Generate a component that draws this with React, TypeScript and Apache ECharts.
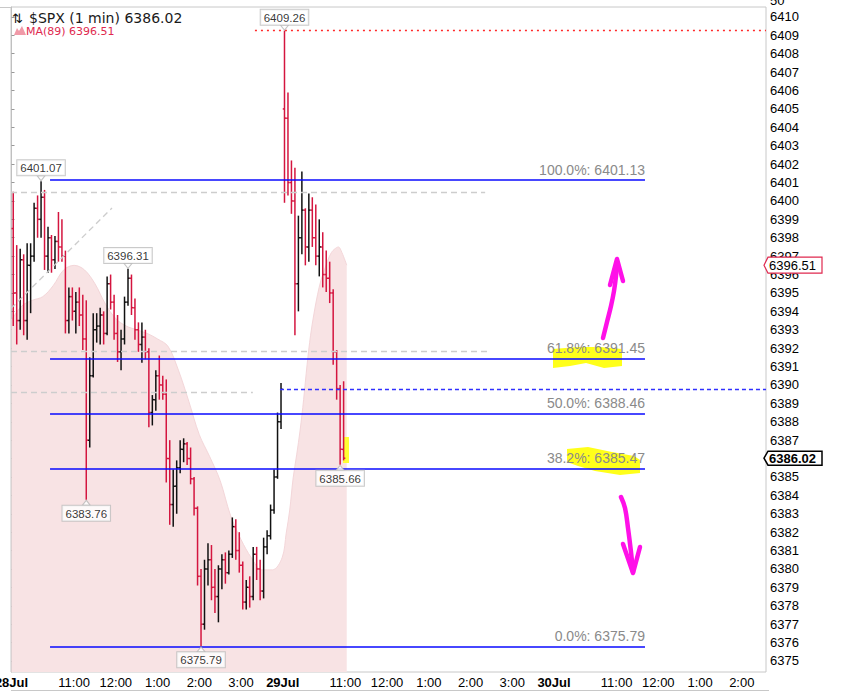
import React, { useEffect, useRef } from "react";
import * as echarts from "echarts";

// ---------- data ----------
// 5-minute OHLC bars. Session minutes counted from 28 Jul 09:30 (390 min per session).
const SESSION_MIN = 390;
const BAR_MIN = 5;

const jul28Open = [
  6398.5, 6395.0, 6393.5, 6396.8, 6393.5, 6396.5, 6397.0, 6399.6, 6399.0, 6400.2,
  6397.0, 6398.0, 6396.8, 6397.8, 6397.5, 6397.0, 6393.5, 6394.8, 6394.0, 6394.5,
  6393.8, 6392.5, 6387.0, 6390.5, 6393.0, 6393.2, 6393.8, 6392.8, 6395.5, 6394.5,
  6392.8, 6391.8, 6392.5, 6394.5, 6395.8, 6394.2, 6393.0, 6392.2, 6392.6, 6391.8,
  6388.5, 6389.2, 6390.5, 6390.0, 6389.5, 6386.0, 6383.5, 6384.5, 6385.5, 6386.5,
  6386.8, 6386.0, 6384.9, 6383.3, 6379.6, 6377.0, 6380.0, 6380.5, 6379.0, 6378.5,
  6380.0, 6380.5, 6379.8, 6380.8, 6382.3, 6381.0, 6380.2, 6378.2, 6379.0, 6378.5,
  6380.8, 6380.0, 6378.8, 6381.2, 6381.8, 6383.2, 6385.0, 6388.0,
];
const jul28High = [
  6400.5, 6397.6, 6397.4, 6397.1, 6397.7, 6397.7, 6399.9, 6400.3, 6401.07, 6400.6,
  6398.6, 6398.15, 6398.1, 6399.4, 6399.0, 6397.3, 6395.3, 6395.3, 6395.05, 6395.3,
  6394.9, 6394.6, 6391.5, 6393.9, 6393.9, 6394.2, 6394.0, 6395.9, 6396.0, 6394.9,
  6393.8, 6393.0, 6394.8, 6396.31, 6396.0, 6394.7, 6393.4, 6393.4, 6393.0, 6392.0,
  6389.45, 6390.8, 6391.6, 6390.5, 6390.3, 6387.0, 6385.4, 6385.9, 6387.0, 6387.1,
  6386.9, 6386.6, 6385.0, 6383.4, 6380.0, 6380.5, 6381.4, 6381.3, 6380.0, 6380.2,
  6380.8, 6380.9, 6381.0, 6382.8, 6382.7, 6382.0, 6380.4, 6379.4, 6379.6, 6381.2,
  6381.2, 6380.5, 6381.7, 6382.1, 6383.5, 6385.4, 6388.5, 6390.1,
];
const jul28Low = [
  6393.2, 6392.2, 6393.0, 6392.7, 6392.45, 6393.9, 6396.7, 6398.0, 6398.0, 6396.25,
  6396.1, 6396.1, 6396.3, 6396.7, 6396.7, 6392.8, 6392.8, 6393.5, 6392.8, 6393.2,
  6391.9, 6383.76, 6386.6, 6390.4, 6392.3, 6392.2, 6392.2, 6392.7, 6394.1, 6392.45,
  6391.25, 6390.8, 6392.2, 6394.3, 6393.8, 6392.45, 6391.8, 6391.2, 6391.4, 6387.7,
  6387.8, 6388.6, 6389.2, 6389.2, 6384.7, 6382.4, 6382.3, 6383.0, 6385.2, 6385.8,
  6385.65, 6384.6, 6382.9, 6379.1, 6375.79, 6376.7, 6379.1, 6378.3, 6377.6, 6377.1,
  6378.9, 6379.2, 6379.7, 6380.6, 6380.5, 6379.8, 6377.8, 6377.8, 6377.9, 6378.3,
  6379.4, 6378.3, 6378.4, 6380.8, 6381.6, 6383.0, 6384.9, 6387.6,
];
const jul28Close = [
  6395.0, 6393.5, 6396.8, 6393.5, 6396.5, 6397.0, 6399.6, 6399.0, 6400.2, 6397.0,
  6398.0, 6396.8, 6397.8, 6397.5, 6397.0, 6393.5, 6394.8, 6394.0, 6394.5, 6393.8,
  6392.5, 6387.0, 6390.5, 6393.0, 6393.2, 6393.8, 6392.8, 6395.5, 6394.5, 6392.8,
  6391.8, 6392.5, 6394.5, 6395.8, 6394.2, 6393.0, 6392.2, 6392.6, 6391.8, 6388.5,
  6389.2, 6390.5, 6390.0, 6389.5, 6386.0, 6383.5, 6384.5, 6385.5, 6386.5, 6386.8,
  6386.0, 6384.9, 6383.3, 6379.6, 6377.0, 6380.0, 6380.5, 6379.0, 6378.5, 6380.0,
  6380.5, 6379.8, 6380.8, 6382.3, 6381.0, 6380.2, 6378.2, 6379.0, 6378.5, 6380.8,
  6380.0, 6378.8, 6381.2, 6381.8, 6383.2, 6385.0, 6388.0, 6389.77,
];

const jul29Open = [
  6405.0, 6404.5, 6401.0, 6400.0, 6395.5, 6398.0, 6399.5, 6397.5, 6399.5, 6398.0,
  6397.0, 6397.5, 6396.0, 6395.8, 6395.0, 6391.8, 6389.8, 6386.5,
];
const jul29High = [
  6409.26, 6405.9, 6402.2, 6401.8, 6399.2, 6401.6, 6399.6, 6400.4, 6400.2, 6399.8,
  6399.0, 6398.3, 6397.3, 6396.7, 6395.2, 6391.9, 6390.0, 6390.2,
];
const jul29Low = [
  6399.9, 6400.3, 6399.3, 6392.7, 6394.0, 6397.1, 6396.5, 6396.7, 6397.5, 6396.5,
  6395.9, 6395.3, 6395.05, 6394.45, 6391.1, 6389.2, 6385.66, 6385.9,
];
const jul29Close = [
  6404.5, 6401.0, 6400.0, 6395.5, 6398.0, 6399.5, 6397.5, 6399.5, 6398.0, 6397.0,
  6397.5, 6396.0, 6395.8, 6395.0, 6391.8, 6389.8, 6386.5, 6386.02,
];

// MA(89), read along the edge of the shaded area
const maMinutes = [
  0, 15, 30, 45, 60, 75, 90, 105, 120, 135, 150, 165, 180, 195, 210, 225, 240, 255,
  270, 285, 300, 315, 330, 345, 360, 375, 389,
  395, 400, 405, 410, 415, 420, 425, 430, 435, 440, 445, 450, 455, 460, 465, 470, 475, 482,
];
const maValues = [
  6393.53, 6394.3, 6394.6, 6394.8, 6395.4, 6396.25, 6396.5, 6396.25, 6395.5, 6394.4,
  6393.6, 6393.2, 6393.0, 6392.8, 6392.5, 6392.1, 6390.8, 6389.1, 6387.3, 6386.1,
  6384.8, 6382.9, 6381.6, 6380.6, 6379.95, 6379.95, 6380.6,
  6381.95, 6383.2, 6384.95, 6386.2, 6387.55, 6389.2, 6391.1, 6392.7, 6393.9, 6394.9,
  6395.7, 6396.25, 6396.8, 6397.2, 6397.4, 6397.5, 6397.2, 6396.51,
];

// swing high / low labels
const swingMinutes = [42.5, 167.5, 107.5, 272.5, 392.5, 472.5];
const swingValues = [6401.07, 6396.31, 6383.76, 6375.79, 6409.26, 6385.66];
const swingSides = ["high", "high", "low", "low", "high", "low"];

// Fibonacci retracement
const fibPercents = ["100.0%", "61.8%", "50.0%", "38.2%", "0.0%"];
const fibLevels = [6401.13, 6391.45, 6388.46, 6385.47, 6375.79];
const fibStartMin = 55.4;
const fibEndMin = 910.8;

// other drawn levels
const highLevel = 6409.26;
const highLevelStartMin = 350;
const prevClose = 6389.77;
const prevCloseStartMin = 386;
const greyLevels = [6400.49, 6391.85, 6389.6];
const greyLevelEndMin = [681, 688, 347];
const diagonalMin = [-0.72, 144.5];
const diagonalVal = [6394.16, 6399.62];

const lastPrice = 6386.02;
const lastMA = 6396.51;

// axes
const xTickMinutes = [0, 90, 150, 210, 270, 330, 390, 480, 540, 600, 660, 720, 780, 870, 930, 990, 1050];
const xTickLabels = ["28Jul", "11:00", "12:00", "1:00", "2:00", "3:00", "29Jul", "11:00", "12:00", "1:00", "2:00", "3:00", "30Jul", "11:00", "12:00", "1:00", "2:00"];
const xTickIsDay = [true, false, false, false, false, false, true, false, false, false, false, false, true, false, false, false, false];
const yTickValues = [
  6375, 6376, 6377, 6378, 6379, 6380, 6381, 6382, 6383, 6384, 6385, 6386, 6387, 6388,
  6389, 6390, 6391, 6392, 6393, 6394, 6395, 6396, 6397, 6398, 6399, 6400, 6401, 6402,
  6403, 6404, 6405, 6406, 6407, 6408, 6409, 6410,
];

const X_MIN = -0.72;
const X_MAX = 1084.8;
const Y_MIN = 6374.4;
const Y_MAX = 6410.54;

const UP = "#111111";
const DOWN = "#d4153f";

function buildBars() {
  const rows: number[][] = [];
  const days = [
    [jul28Open, jul28High, jul28Low, jul28Close],
    [jul29Open, jul29High, jul29Low, jul29Close],
  ];
  days.forEach((d, day) => {
    d[0].forEach((o, i) => {
      const t = day * SESSION_MIN + i * BAR_MIN + BAR_MIN / 2;
      rows.push([t, o, d[1][i], d[2][i], d[3][i]]);
    });
  });
  return rows;
}

export default function App() {
  const ref = useRef<HTMLDivElement>(null);

  useEffect(() => {
    const chart = echarts.init(ref.current as HTMLDivElement, null, { renderer: "svg" });
    const bars = buildBars();
    const labelMap: Record<string, string> = {};
    xTickMinutes.forEach((m, i) => {
      labelMap[String(m)] = xTickIsDay[i] ? `{d|${xTickLabels[i]}}` : xTickLabels[i];
    });

    const greyStyle = { color: "#cdcdcd", type: [6, 4], width: 1.3 };
    const noLabel = { show: false };

    const option: any = {
      animation: false,
      backgroundColor: "#ffffff",
      grid: {
        left: 11,
        right: 99,
        top: 7,
        bottom: 20,
        show: true,
        borderColor: "#c8c8c8",
        borderWidth: 1,
        containLabel: false,
        outerBoundsMode: "none",
      },
      xAxis: {
        type: "value",
        min: X_MIN,
        max: X_MAX,
        axisLine: { show: false },
        axisTick: { show: false },
        splitLine: { show: false },
        axisLabel: {
          customValues: xTickMinutes,
          formatter: (v: number) => labelMap[String(v)] ?? "",
          fontSize: 13,
          fontFamily: "Liberation Sans",
          color: "#000",
          margin: 4,
          rich: { d: { fontWeight: "bold", fontSize: 13, fontFamily: "Liberation Sans", color: "#000" } },
        },
      },
      yAxis: {
        type: "value",
        position: "right",
        min: Y_MIN,
        max: Y_MAX,
        axisLine: { show: true, lineStyle: { color: "#c0c0c0" } },
        axisTick: { show: true, customValues: yTickValues, length: 3, lineStyle: { color: "#999" } },
        splitLine: { show: false },
        axisLabel: {
          customValues: yTickValues,
          formatter: (v: number) => String(v),
          fontSize: 13,
          fontFamily: "Liberation Sans",
          color: "#000",
          margin: 4,
        },
      },
      series: [
        {
          name: "MA(89)",
          type: "line",
          z: 1,
          data: maMinutes.map((m, i) => [m, maValues[i]]),
          symbol: "none",
          smooth: 0.35,
          lineStyle: { color: "#f3d6d9", width: 1 },
          areaStyle: { color: "#f8e3e4", opacity: 1, origin: "start" },
          silent: true,
        },
        {
          name: "$SPX",
          type: "custom",
          z: 3,
          data: bars,
          encode: { x: 0, y: [1, 2, 3, 4] },
          renderItem: (_params: any, api: any) => {
            const t = api.value(0);
            const o = api.value(1);
            const h = api.value(2);
            const l = api.value(3);
            const c = api.value(4);
            const pH = api.coord([t, h]);
            const pL = api.coord([t, l]);
            const pO = api.coord([t, o]);
            const pC = api.coord([t, c]);
            const half = api.size([BAR_MIN, 0])[0] * 0.5;
            const style = { stroke: c >= o ? UP : DOWN, lineWidth: 1.5 };
            return {
              type: "group",
              children: [
                { type: "line", shape: { x1: pH[0], y1: pH[1], x2: pL[0], y2: pL[1] }, style },
                { type: "line", shape: { x1: pO[0] - half, y1: pO[1], x2: pO[0], y2: pO[1] }, style },
                { type: "line", shape: { x1: pC[0], y1: pC[1], x2: pC[0] + half, y2: pC[1] }, style },
              ],
            };
          },
        },
        {
          name: "levels",
          type: "line",
          data: [],
          z: 4,
          markLine: {
            silent: true,
            symbol: ["none", "none"],
            animation: false,
            data: [
              ...greyLevels.map((v, i) => [
                { coord: [X_MIN, v], lineStyle: greyStyle, label: noLabel },
                { coord: [greyLevelEndMin[i], v] },
              ]),
              [
                { coord: [diagonalMin[0], diagonalVal[0]], lineStyle: greyStyle, label: noLabel },
                { coord: [diagonalMin[1], diagonalVal[1]] },
              ],
              [
                { coord: [highLevelStartMin, highLevel], lineStyle: { color: "#ff2a2a", type: [2, 4], width: 1.3 }, label: noLabel },
                { coord: [X_MAX, highLevel] },
              ],
              [
                { coord: [prevCloseStartMin, prevClose], lineStyle: { color: "#3030ff", type: [4, 3], width: 1.3 }, label: noLabel },
                { coord: [X_MAX, prevClose] },
              ],
              ...fibLevels.map((v, i) => [
                {
                  coord: [fibStartMin, v],
                  lineStyle: { color: "#0a0aff", type: "solid", width: 1.5 },
                  label: {
                    show: true,
                    position: "insideEndTop",
                    formatter: `${fibPercents[i]}: ${v.toFixed(2)}`,
                    color: "#8a8a8a",
                    fontSize: 14,
                    fontFamily: "Liberation Sans",
                    distance: [0, 3],
                  },
                },
                { coord: [fibEndMin, v] },
              ]),
            ],
          },
        },
        {
          name: "swings",
          type: "scatter",
          z: 6,
          silent: true,
          data: swingMinutes.map((m, i) => {
            const high = swingSides[i] === "high";
            return {
              value: [m, swingValues[i]],
              symbol: high ? "path://M0,0L10,0L5,7Z" : "path://M5,0L10,7L0,7Z",
              symbolSize: [8, 5],
              symbolOffset: [0, high ? -3 : 3],
              label: { position: high ? "top" : "bottom" },
            };
          }),
          itemStyle: { color: "#ffffff", borderColor: "#b5b5b5", borderWidth: 1 },
          label: {
            show: true,
            formatter: (p: any) => p.value[1].toFixed(2),
            fontSize: 11.5,
            fontFamily: "Liberation Sans",
            color: "#000",
            backgroundColor: "#ffffff",
            borderColor: "#bdbdbd",
            borderWidth: 1,
            padding: [2, 3, 1, 3],
            distance: 0,
          },
        },
      ],
    };

    chart.setOption(option);

    const pMA = chart.convertToPixel({ xAxisIndex: 0, yAxisIndex: 0 }, [X_MAX, lastMA]) as number[];
    const pLast = chart.convertToPixel({ xAxisIndex: 0, yAxisIndex: 0 }, [X_MAX, lastPrice]) as number[];
    const ax = pMA[0];

    const tag = (y: number, h: number, stroke: string, lw: number, text: string, bold: boolean) => [
      {
        type: "polygon",
        z: 20,
        shape: { points: [[ax - 2, y], [ax + 2, y - h], [ax + 56, y - h], [ax + 56, y + h], [ax + 2, y + h]] },
        style: { fill: "#ffffff", stroke, lineWidth: lw },
      },
      {
        type: "text",
        z: 21,
        x: ax + 3,
        y: y,
        style: {
          text,
          fill: "#000",
          fontSize: 13,
          fontFamily: "Liberation Sans",
          fontWeight: bold ? "bold" : "normal",
          verticalAlign: "middle",
        },
      },
    ];

    const magenta = { stroke: "#ff10e8", lineWidth: 4.5, lineCap: "round", lineJoin: "round", fill: null };

    chart.setOption({
      graphic: [
        // yellow highlighter marks
        {
          type: "polygon",
          z: 1.5,
          shape: { points: [[553, 349], [578, 347], [600, 347], [622, 349], [622, 366], [604, 368], [586, 363], [570, 366], [553, 368]] },
          style: { fill: "#ffff1a" },
        },
        {
          type: "polygon",
          z: 1.5,
          shape: { points: [[567, 449], [588, 447], [612, 452], [634, 456], [640, 460], [640, 473], [620, 475], [595, 471], [578, 466], [567, 462]] },
          style: { fill: "#ffff1a" },
        },
        {
          type: "rect",
          z: 1.5,
          shape: { x: 343, y: 437, width: 6, height: 26 },
          style: { fill: "#ffff33" },
        },
        // hand-drawn magenta arrows
        {
          type: "polyline",
          z: 20,
          shape: { points: [[603, 338], [607, 322], [611, 306], [614, 291], [616, 276], [617, 263]], smooth: 0.4 },
          style: magenta,
        },
        { type: "polyline", z: 20, shape: { points: [[610, 285], [617, 259], [623, 281]] }, style: magenta },
        {
          type: "polyline",
          z: 20,
          shape: { points: [[621, 497], [625, 508], [628, 528], [631, 552], [633, 572]], smooth: 0.4 },
          style: magenta,
        },
        { type: "polyline", z: 20, shape: { points: [[623, 544], [633, 573], [640, 547]] }, style: magenta },
        // value tags on the price axis
        ...tag(pMA[1], 8, "#e0284f", 1.2, lastMA.toFixed(2), false),
        ...tag(pLast[1], 7, "#000000", 1.5, lastPrice.toFixed(2), true),
        // header
        { type: "text", z: 20, x: 12, y: 18, style: { text: "⇅", fill: "#111", fontSize: 13, fontFamily: "DejaVu Sans", verticalAlign: "middle" } },
        {
          type: "text",
          z: 20,
          x: 29,
          y: 18,
          style: { text: `$SPX (1 min) ${lastPrice.toFixed(2)}`, fill: "#1a1a1a", fontSize: 14, fontFamily: "DejaVu Sans", verticalAlign: "middle" },
        },
        {
          type: "polygon",
          z: 20,
          shape: { points: [[14, 35], [17, 28], [19, 31], [22, 26], [26, 35]] },
          style: { fill: "#f09aa8" },
        },
        {
          type: "text",
          z: 20,
          x: 26,
          y: 31,
          style: { text: `MA(89) ${lastMA.toFixed(2)}`, fill: "#e0294f", fontSize: 11, fontFamily: "DejaVu Sans", verticalAlign: "middle" },
        },
        // pane edges
        { type: "line", z: 20, shape: { x1: 0, y1: 7.5, x2: 11, y2: 7.5 }, style: { stroke: "#c8c8c8", lineWidth: 1 } },
        { type: "line", z: 20, shape: { x1: 11, y1: 690.5, x2: 769, y2: 690.5 }, style: { stroke: "#c8c8c8", lineWidth: 1 } },
        { type: "text", z: 20, x: 770, y: 0, style: { text: "50", fill: "#000", fontSize: 13, fontFamily: "Liberation Sans", verticalAlign: "middle" } },
      ],
    });

    return () => chart.dispose();
  }, []);

  return <div ref={ref} style={{ position: "absolute", left: 0, top: 0, width: 865, height: 692 }} />;
}
